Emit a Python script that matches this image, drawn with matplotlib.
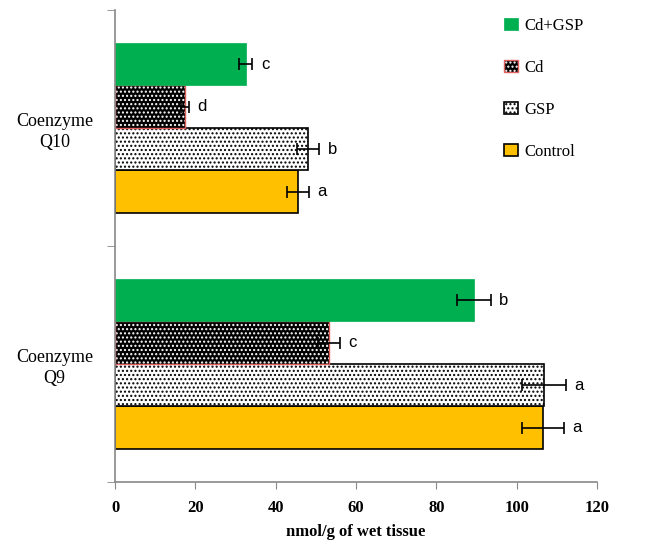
import numpy as np
import matplotlib.pyplot as plt
from matplotlib.ticker import FixedLocator

plt.rcParams['font.family'] = ['Liberation Serif', 'DejaVu Serif']
plt.rcParams['hatch.linewidth'] = 1.0

# Coenzyme levels (nmol/g wet tissue), groups from bottom to top
groups = ['Coenzyme\nQ9', 'Coenzyme\nQ10']
series = ['Control', 'GSP', 'Cd', 'Cd+GSP']
means = {
    'Control': [106.5, 45.5],
    'GSP':     [106.7, 48.0],
    'Cd':      [53.3, 17.4],
    'Cd+GSP':  [89.3, 32.5],
}
errors = {
    'Control': [5.2, 2.7],
    'GSP':     [5.5, 2.8],
    'Cd':      [2.7, 1.0],
    'Cd+GSP':  [4.3, 1.7],
}
letters = {
    'Control': ['a', 'a'],
    'GSP':     ['a', 'b'],
    'Cd':      ['c', 'd'],
    'Cd+GSP':  ['b', 'c'],
}

fig = plt.figure(figsize=(6.54, 5.45), dpi=100)
ax = fig.add_axes([0.176, 0.116, 0.737, 0.866])

y = np.arange(len(groups))
h = 0.18
offsets = [-1.5 * h, -0.5 * h, 0.5 * h, 1.5 * h]

handles = {}
for name, off in zip(series, offsets):
    pos = y + off
    vals = means[name]
    if name == 'Control':
        b = ax.barh(pos, vals, height=h, color='#FFC000', edgecolor='black', linewidth=1.2)
        handles[name] = b
    elif name == 'GSP':
        b = ax.barh(pos, vals, height=h, color='white', edgecolor='black', hatch='....', linewidth=1.2)
        handles[name] = b
    elif name == 'Cd':
        b1 = ax.barh(pos, vals, height=h, color='black', edgecolor='white', hatch='....', linewidth=0)
        b2 = ax.barh(pos, vals, height=h, fill=False, edgecolor='#E06060', linewidth=1.0)
        handles[name] = (b1, b2)
    else:
        b = ax.barh(pos, vals, height=h, color='#00B050', edgecolor='#00B050', linewidth=0.5)
        handles[name] = b
    ax.errorbar(vals, pos, xerr=errors[name], fmt='none', ecolor='black',
                elinewidth=1.2, capsize=4, capthick=1.2)
    for v, e, p, t in zip(vals, errors[name], pos, letters[name]):
        ax.annotate(t, (v + e, p), xytext=(6, 0), textcoords='offset points',
                    ha='left', va='center', fontsize=12, family='Liberation Sans')

ax.set_xlim(0, 120)
ax.set_ylim(-0.5, 1.5)
ax.set_xticks(np.arange(0, 121, 20))
ax.set_xticklabels([str(v) for v in range(0, 121, 20)], fontweight='bold', fontsize=12)
ax.set_yticks(y)
ax.set_yticklabels(groups, fontsize=13, linespacing=1.35, multialignment='center')
ax.tick_params(axis='y', which='major', length=0, pad=16)
ax.yaxis.set_minor_locator(FixedLocator([-0.5, 0.5, 1.5]))
ax.tick_params(axis='y', which='minor', length=6, color='#888888')
ax.tick_params(axis='x', length=5, color='#888888', pad=8)
for s in ['top', 'right']:
    ax.spines[s].set_visible(False)
for s in ['left', 'bottom']:
    ax.spines[s].set_color('#888888')
    ax.spines[s].set_linewidth(1.2)

ax.set_xlabel('nmol/g of wet tissue', fontweight='bold', fontsize=12, labelpad=6)

order = ['Cd+GSP', 'Cd', 'GSP', 'Control']
ax.legend([handles[k] for k in order], order, loc='upper left',
          bbox_to_anchor=(0.748, 0.995), bbox_transform=fig.transFigure,
          frameon=False, fontsize=12, handlelength=0.8, handleheight=0.8,
          labelspacing=1.55, handletextpad=0.4)

fig.savefig('out.png', dpi=100)
